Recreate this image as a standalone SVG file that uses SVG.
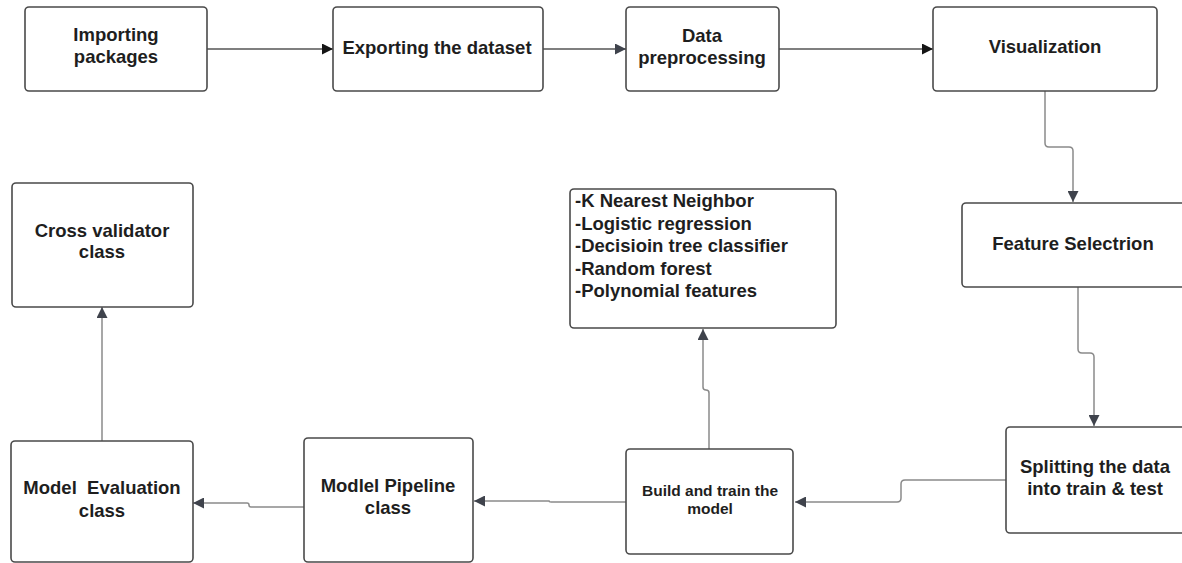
<svg xmlns="http://www.w3.org/2000/svg" width="1182" height="563" viewBox="0 0 1182 563">
  <defs>
    <style>
      .box { fill: #ffffff; stroke: #4a4a4a; stroke-width: 1.6; }
      .lbl { font-family: "Liberation Sans", Arial, sans-serif; font-weight: bold; font-size: 18.5px; fill: #1e1e1e; text-anchor: middle; white-space: pre; }
      .small { font-size: 15.5px; }
      .list { text-anchor: start; }
      .wire { fill: none; stroke: #8a8a8a; stroke-width: 1.5; marker-end: url(#head); }
      .wire.dark { stroke: #555555; }
      .wire.dark.top { marker-end: url(#headBlack); }
    </style>
    <marker id="head" viewBox="0 0 10 10" refX="10" refY="5" markerWidth="11" markerHeight="11" markerUnits="userSpaceOnUse" orient="auto">
      <path d="M0,0 L10,5 L0,10 Z" fill="#3f434c"/>
    </marker>
    <marker id="headBlack" viewBox="0 0 10 10" refX="10" refY="5" markerWidth="11" markerHeight="11" markerUnits="userSpaceOnUse" orient="auto">
      <path d="M0,0 L10,5 L0,10 Z" fill="#151515"/>
    </marker>
  </defs>

  <rect width="1182" height="563" fill="#ffffff"/>

  <!-- connectors -->
  <g id="connectors">
    <path class="wire dark top" d="M207 49 H333"/>
    <path class="wire dark" d="M543 49 H626"/>
    <path class="wire dark top" d="M779 49 H933"/>
    <path class="wire" d="M1045 91 V143 Q1045 147 1049 147 H1069 Q1073 147 1073 151 V202"/>
    <path class="wire" d="M1078 287 V349 Q1078 353 1082 353 H1090 Q1094 353 1094 357 V426"/>
    <path class="wire" d="M1006 480 H905 Q901 480 901 484 V498 Q901 502 897 502 H795"/>
    <path class="wire" d="M709 449 V393 Q709 390 706 390 Q703 390 703 387 V329"/>
    <path class="wire" d="M626 502 H551 Q549 502 549 501 H474"/>
    <path class="wire" d="M304 507 H251 Q249 507 249 505 Q249 503 247 503 H193"/>
    <path class="wire" d="M102 441 V307"/>
  </g>

  <g id="importing">
    <rect class="box" x="25" y="7" width="182" height="84" rx="4"/>
    <text class="lbl" x="116" y="41">Importing</text>
    <text class="lbl" x="116" y="63">packages</text>
  </g>

  <g id="exporting">
    <rect class="box" x="333" y="7" width="210" height="84" rx="4"/>
    <text class="lbl" x="437" y="54">Exporting the dataset</text>
  </g>

  <g id="preprocessing">
    <rect class="box" x="626" y="7" width="153" height="84" rx="4"/>
    <text class="lbl" x="702" y="42">Data</text>
    <text class="lbl" x="702" y="64">preprocessing</text>
  </g>

  <g id="visualization">
    <rect class="box" x="933" y="7" width="224" height="84" rx="4"/>
    <text class="lbl" x="1045" y="53">Visualization</text>
  </g>

  <g id="feature-selection">
    <rect class="box" x="962" y="203" width="225" height="84" rx="4"/>
    <text class="lbl" x="1073" y="250">Feature Selectrion</text>
  </g>

  <g id="splitting">
    <rect class="box" x="1006" y="427" width="181" height="106" rx="4"/>
    <text class="lbl" x="1095" y="473">Splitting the data</text>
    <text class="lbl" x="1095" y="495">into train &amp; test</text>
  </g>

  <g id="build-train">
    <rect class="box" x="626" y="449" width="167" height="105" rx="4"/>
    <text class="lbl small" x="710" y="496">Build and train the</text>
    <text class="lbl small" x="710" y="514">model</text>
  </g>

  <g id="algorithms">
    <rect class="box" x="570" y="189" width="266" height="139" rx="4"/>
    <text class="lbl list" x="575" y="207">-K Nearest Neighbor</text>
    <text class="lbl list" x="575" y="229.5">-Logistic regression</text>
    <text class="lbl list" x="575" y="252">-Decisioin tree classifier</text>
    <text class="lbl list" x="575" y="274.5">-Random forest</text>
    <text class="lbl list" x="575" y="297">-Polynomial features</text>
  </g>

  <g id="pipeline">
    <rect class="box" x="304" y="438" width="169" height="124" rx="4"/>
    <text class="lbl" x="388" y="492">Modlel Pipeline</text>
    <text class="lbl" x="388" y="514">class</text>
  </g>

  <g id="evaluation">
    <rect class="box" x="11" y="441" width="182" height="121" rx="4"/>
    <text class="lbl" x="102" y="494">Model  Evaluation</text>
    <text class="lbl" x="102" y="517">class</text>
  </g>

  <g id="cross-validator">
    <rect class="box" x="12" y="183" width="181" height="124" rx="4"/>
    <text class="lbl" x="102" y="237">Cross validator</text>
    <text class="lbl" x="102" y="258">class</text>
  </g>
</svg>
